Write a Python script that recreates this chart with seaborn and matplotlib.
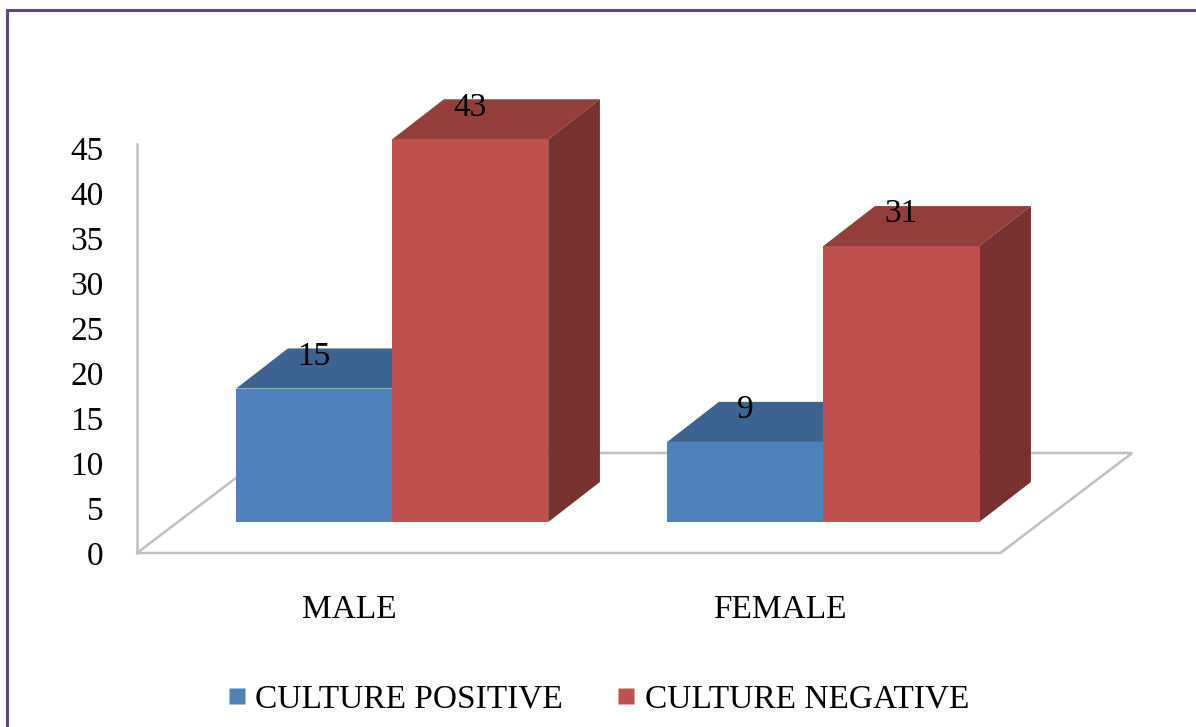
import numpy as np
import pandas as pd
import seaborn as sns
import matplotlib.pyplot as plt
from matplotlib.patches import Polygon
from matplotlib.lines import Line2D
from matplotlib.colors import to_rgb

# ================================
# Datos
# ================================
sexo = ["MALE", "FEMALE"]
series = ["CULTURE POSITIVE", "CULTURE NEGATIVE"]
positivo = [15, 9]
negativo = [43, 31]
ticks_y = [0, 5, 10, 15, 20, 25, 30, 35, 40, 45]

colores = ["#4F81BD", "#C0504D"]

df = pd.DataFrame({
    "Sexo": sexo * 2,
    "Cultivo": [series[0]] * len(sexo) + [series[1]] * len(sexo),
    "Casos": positivo + negativo,
})

# Estilo visual
sns.set_style("white")
plt.rcParams["font.family"] = ["Liberation Serif", "DejaVu Serif"]
plt.rcParams["font.size"] = 24
plt.rcParams["text.color"] = "black"
plt.rcParams["xtick.labelcolor"] = "black"
plt.rcParams["ytick.labelcolor"] = "black"

# profundidad "3D" (en unidades de datos)
bar_dx, bar_dy = 0.12, 4.5
floor_drop = 3.48          # frente del piso debajo de la base de las barras
floor_dx, floor_dy = 0.306, 11.24
escala_eje = 1.011         # el eje de valores va un poco mas espaciado
gris = "#BFBFBF"

fig = plt.figure(figsize=(11.96, 7.27), dpi=100)
ax = fig.add_axes([137 / 1196, 174 / 727, 1003 / 1196, 463 / 727])

sns.barplot(data=df, x="Sexo", y="Casos", hue="Cultivo", palette=colores,
            width=0.724, saturation=1, legend=False, linewidth=0,
            zorder=3, ax=ax)

xmin, xmax = -0.592, 1.735
ax.set_xlim(xmin, xmax)
ax.set_ylim(-floor_drop, 48.54)

# piso del grafico
fx0, fx1 = xmin, 1.411
fy0 = -floor_drop
fy1 = fy0 + floor_dy
ax.plot([fx0, fx1, fx1 + floor_dx, fx0 + floor_dx, fx0],
        [fy0, fy0, fy1, fy1, fy0], color=gris, lw=1.8, zorder=0,
        clip_on=False, solid_joinstyle="miter")

# caras superior y lateral de cada barra
for p in list(ax.patches):
    x0, w, h = p.get_x(), p.get_width(), p.get_height()
    c = np.array(to_rgb(p.get_facecolor()))
    top = Polygon([(x0, h), (x0 + w, h), (x0 + w + bar_dx, h + bar_dy),
                   (x0 + bar_dx, h + bar_dy)], closed=True,
                  facecolor=c * 0.77, edgecolor="none", zorder=2, clip_on=False)
    side = Polygon([(x0 + w, 0), (x0 + w + bar_dx, bar_dy),
                    (x0 + w + bar_dx, h + bar_dy), (x0 + w, h)], closed=True,
                   facecolor=c * 0.62, edgecolor="none", zorder=2, clip_on=False)
    ax.add_patch(side)
    ax.add_patch(top)
    ax.text(x0 + w / 2, h + 3.6, f"{h:g}", ha="center", va="center",
            fontsize=24, zorder=5)

# ejes
for s in ["top", "right", "bottom"]:
    ax.spines[s].set_visible(False)
ax.spines["left"].set_color(gris)
ax.spines["left"].set_linewidth(1.8)
ax.spines["left"].set_bounds(-floor_drop, 42.5)

ax.set_yticks([v * escala_eje - floor_drop for v in ticks_y],
              [str(v) for v in ticks_y])
ax.set_xticks([i - 0.1 for i in range(len(sexo))], sexo)
ax.tick_params(axis="y", length=0, pad=24, labelsize=24)
ax.tick_params(axis="x", length=0, pad=30, labelsize=24)
ax.set_xlabel("")
ax.set_ylabel("")

# leyenda
handles = [Line2D([0], [0], marker="s", linestyle="none", markersize=12,
                  markerfacecolor=c, markeredgecolor="none") for c in colores]
fig.legend(handles, series, loc="center", bbox_to_anchor=(0.5, 28 / 727),
           ncol=2, frameon=False, fontsize=24, handlelength=0.6,
           handletextpad=0.25, columnspacing=1.6)

# marco morado (solo arriba e izquierda, el resto queda fuera de la imagen)
borde_x, borde_y = 7 / 1196, 1 - 10 / 727
fig.add_artist(Line2D([borde_x, borde_x, 1.0], [0.0, borde_y, borde_y],
                      transform=fig.transFigure, color="#5F497A", lw=2.2,
                      solid_joinstyle="miter"))

fig.savefig("out.png", dpi=100)
